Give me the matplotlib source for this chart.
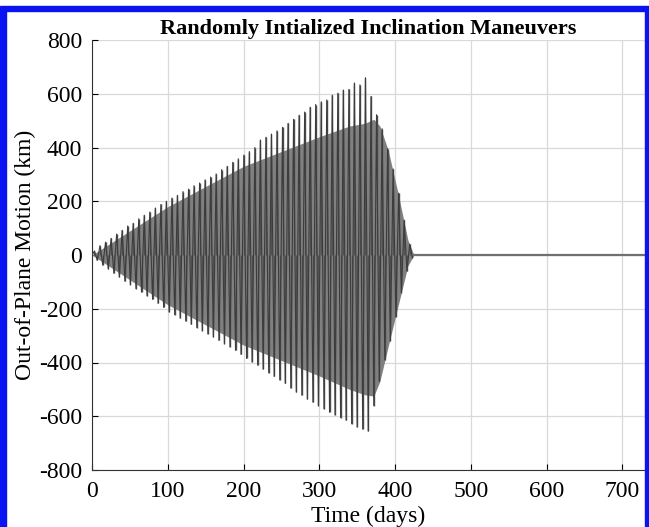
import matplotlib
matplotlib.use("Agg")
import matplotlib.pyplot as plt
import numpy as np
from matplotlib.patches import Rectangle

# upper peaks (km), one per cycle of ~7.3 days
upper_t0 = 3.3
lower_t0 = 6.95
period = 7.3
upper_peaks = [15, 35, 48, 62, 78, 92, 108, 118, 135, 148,
               160, 175, 188, 200, 212, 222, 236, 245, 258, 268,
               280, 290, 302, 318, 330, 345, 358, 372, 385, 400,
               428, 438, 450, 462, 475, 490, 505, 520, 532, 550,
               560, 570, 577, 595, 602, 614, 616, 640, 633, 660,
               590, 522, 470, 395, 320, 230, 130, 40]
lower_peaks = [-20, -38, -52, -68, -82, -98, -110, -125, -138, -152,
               -165, -180, -195, -212, -222, -235, -246, -258, -270, -282,
               -294, -305, -318, -330, -342, -355, -370, -385, -398, -410,
               -425, -438, -452, -465, -478, -495, -510, -522, -536, -548,
               -560, -572, -585, -595, -605, -615, -628, -640, -648, -655,
               -560, -470, -390, -320, -230, -140, -60, -10]

# dense band where the many trajectories overlap
band_t = [0, 100, 200, 300, 340, 360, 372, 380, 391, 404, 417, 425]
band_hi = [0, 180, 330, 440, 480, 490, 505, 480, 390, 230, 56, 0]
band_lo = [0, -185, -335, -450, -500, -520, -525, -470, -340, -190, -40, 0]

# after the maneuvers the motion stays near zero
tail_t = [425, 730]
tail_y = [0, 0]

up_t = upper_t0 + period * np.arange(len(upper_peaks))
lo_t = lower_t0 + period * np.arange(len(lower_peaks))
zig_t = np.empty(2 * len(up_t) + 1)
zig_y = np.empty(2 * len(up_t) + 1)
zig_t[0], zig_y[0] = 0, 0
zig_t[1::2], zig_y[1::2] = up_t, upper_peaks
zig_t[2::2], zig_y[2::2] = lo_t, lower_peaks

plt.rcParams['font.family'] = ['Liberation Serif', 'DejaVu Serif']
plt.rcParams['axes.unicode_minus'] = False

fig = plt.figure(figsize=(6.49, 5.27), dpi=100)
ax = fig.add_axes([92/649, 57/527, 553/649, 430/527])

ax.fill_between(band_t, band_lo, band_hi, color='#808080', lw=0, zorder=2)
ax.vlines(up_t, 0, upper_peaks, color='#505050', lw=1.0, zorder=3)
ax.vlines(lo_t, lower_peaks, 0, color='#505050', lw=1.0, zorder=3)
ax.plot(zig_t, zig_y, color='#3c3c3c', lw=0.8, zorder=3)
ax.plot(tail_t, tail_y, color='#707070', lw=1.6, zorder=3)

ax.set_xlim(0, 730)
ax.set_ylim(-800, 800)
ax.set_xticks(np.arange(0, 701, 100))
ax.set_yticks(np.arange(-800, 801, 200))
ax.grid(True, color='#d9d9d9', lw=0.9, zorder=0)
ax.set_axisbelow(True)
ax.tick_params(direction='in', length=4, labelsize=17, width=0.8)
ax.tick_params(axis='x', pad=8)
ax.tick_params(axis='y', pad=7)
for s in ['top', 'right']:
    ax.spines[s].set_visible(False)
for s in ['left', 'bottom']:
    ax.spines[s].set_color('#333333')

ax.set_xlabel('Time (days)', fontsize=17, labelpad=3)
ax.set_ylabel('Out-of-Plane Motion (km)', fontsize=17, labelpad=2)
ax.set_title('Randomly Intialized Inclination Maneuvers', fontsize=16, fontweight='bold', pad=4)

# blue frame around the figure
fig.patches.append(Rectangle((0, 0), 6/649, 520/527, transform=fig.transFigure, color='#0a14f0', zorder=10))
fig.patches.append(Rectangle((0, 516/527), 1, 5/527, transform=fig.transFigure, color='#0a14f0', zorder=10))
fig.patches.append(Rectangle((645/649, 0), 4/649, 520/527, transform=fig.transFigure, color='#0a14f0', zorder=10))

fig.savefig('out.png', dpi=100)
